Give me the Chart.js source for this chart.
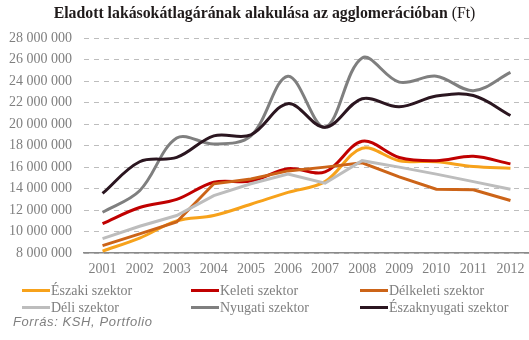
<!DOCTYPE html>
<html>
<head>
<meta charset="utf-8">
<script src="https://cdn.jsdelivr.net/npm/chart.js@4.4.0/dist/chart.umd.min.js"></script>
<style>
    body {
        margin: 0;
        background: #ffffff;
    }
    .wrap {
        position: relative;
        width: 529px;
        height: 340px;
        overflow: hidden;
    }
    .chart_box {
        position: absolute;
        left: 0;
        top: 0;
        width: 529px;
        height: 340px;
    }
    .title {
        position: absolute;
        left: 0;
        top: 4px;
        width: 529px;
        text-align: center;
        font-family: "Liberation Serif", serif;
        font-size: 15.8px;
        font-weight: bold;
        color: #1f1a1a;
        white-space: nowrap;
    }
    .title span {
        font-weight: normal;
    }
    .legend_item {
        position: absolute;
        height: 16px;
        font-family: "Liberation Serif", serif;
        font-size: 14px;
        color: #7f7f7f;
        white-space: nowrap;
        line-height: 16px;
    }
    .legend_line {
        display: inline-block;
        width: 28px;
        height: 3px;
        vertical-align: middle;
        margin-right: 1px;
        margin-top: -2px;
    }
    .source {
        position: absolute;
        left: 13px;
        top: 314px;
        font-family: "Liberation Sans", sans-serif;
        font-style: italic;
        font-size: 13px;
        color: #7f7f7f;
        letter-spacing: 0.6px;
    }
</style>
</head>
<body>
<div class="wrap">
    <div class="chart_box"><canvas id="agglo"></canvas></div>
    <div class="title">Eladott lakásokátlagárának alakulása az agglomerációban <span>(Ft)</span></div>
    <div id="legend"></div>
    <div class="source">Forrás: KSH, Portfolio</div>
</div>
<script>
const YEARS = ["2001", "2002", "2003", "2004", "2005", "2006", "2007", "2008", "2009", "2010", "2011", "2012"];

// átlagár, millió Ft
const eszaki = [8.2, 9.4, 11.0, 11.5, 12.55, 13.65, 14.65, 17.75, 16.6, 16.5, 16.05, 15.9];
const keleti = [10.75, 12.25, 13.0, 14.6, 14.7, 15.85, 15.55, 18.4, 16.9, 16.6, 17.0, 16.3];
const delkeleti = [8.7, 9.8, 10.9, 14.45, 14.9, 15.65, 16.0, 16.4, 15.1, 13.95, 13.9, 12.9];
const deli = [9.35, 10.5, 11.5, 13.35, 14.45, 15.35, 14.5, 16.6, 16.0, 15.35, 14.65, 13.95];
const nyugati = [11.8, 13.8, 18.7, 18.15, 18.9, 24.45, 19.7, 26.15, 23.9, 24.45, 23.1, 24.8];
const eszaknyugati = [13.55, 16.5, 16.9, 18.9, 19.0, 21.9, 19.7, 22.35, 21.6, 22.6, 22.65, 20.8];

const Y_MIN = 8000000;
const Y_MAX = 28000000;
const Y_STEP = 2000000;

function toFt(arr) {
    return arr.map((v) => Math.round(v * 1000000));
}

function formatFt(v) {
    return String(v).replace(/\B(?=(\d{3})+(?!\d))/g, " ");
}

const series = [
    { label: "Északi szektor", data: eszaki, color: "#F7A21B", tension: 0.35 },
    { label: "Keleti szektor", data: keleti, color: "#C00000", tension: 0.35 },
    { label: "Délkeleti szektor", data: delkeleti, color: "#CC6418", tension: 0 },
    { label: "Déli szektor", data: deli, color: "#BDBDBD", tension: 0 },
    { label: "Nyugati szektor", data: nyugati, color: "#7F7F7F", tension: 0.35 },
    { label: "Északnyugati szektor", data: eszaknyugati, color: "#2B1620", tension: 0.35 },
];

// a sötétebb vonalak kerüljenek felülre
const datasets = series.map((s, i) => ({
    label: s.label,
    data: toFt(s.data),
    borderColor: s.color,
    backgroundColor: s.color,
    borderWidth: 3,
    pointRadius: 0,
    tension: s.tension,
    fill: false,
    order: series.length - i,
}));

new Chart(document.getElementById("agglo"), {
    type: "line",
    data: {
        labels: YEARS,
        datasets: datasets,
    },
    options: {
        responsive: true,
        maintainAspectRatio: false,
        animation: false,
        layout: {
            padding: { top: 38, bottom: 62, left: 0, right: 0 },
        },
        plugins: {
            legend: { display: false },
            title: { display: false },
            tooltip: { enabled: false },
        },
        scales: {
            x: {
                offset: true,
                grid: { display: false },
                border: { display: true, color: "#8a8a8a", width: 1.5 },
                ticks: {
                    color: "#7f7f7f",
                    padding: 0,
                    maxRotation: 0,
                    autoSkip: false,
                    font: { family: "Liberation Serif", size: 14 },
                },
            },
            y: {
                min: Y_MIN,
                max: Y_MAX,
                afterFit: (scale) => {
                    scale.width = 84;
                },
                grid: {
                    color: "#bdbdbd",
                    lineWidth: 1,
                    drawTicks: false,
                },
                border: { display: false, dash: [5, 5] },
                ticks: {
                    stepSize: Y_STEP,
                    color: "#7f7f7f",
                    padding: 12,
                    font: { family: "Liberation Serif", size: 14 },
                    callback: (v) => formatFt(v),
                },
            },
        },
    },
});

// legenda 3 oszlopban
const legendPos = [
    [22, 283], [191, 283], [360, 283],
    [22, 300], [191, 300], [360, 300],
];
const legend = document.getElementById("legend");
series.forEach((s, i) => {
    const item = document.createElement("div");
    item.className = "legend_item";
    item.style.left = legendPos[i][0] + "px";
    item.style.top = legendPos[i][1] + "px";
    item.innerHTML =
        '<span class="legend_line" style="background:' + s.color + '"></span>' + s.label;
    legend.appendChild(item);
});
</script>
</body>
</html>
